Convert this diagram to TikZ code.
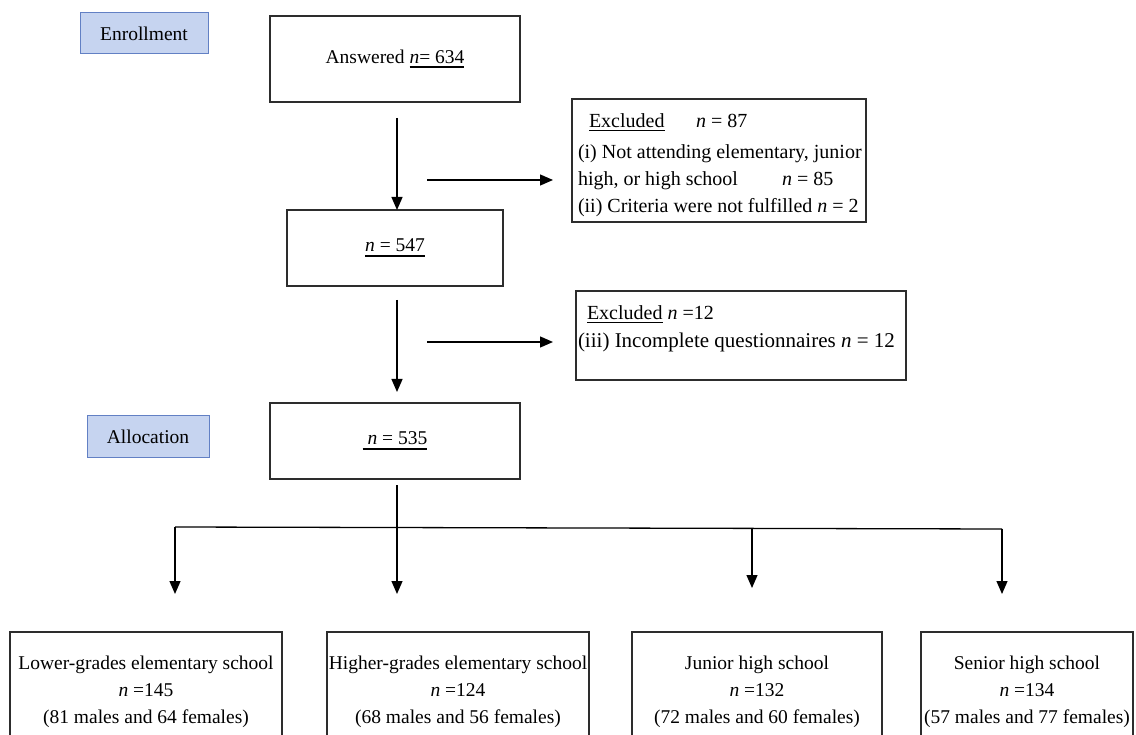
\documentclass[tikz,border=0pt]{standalone}
\usepackage{fontspec}
\setmainfont{Liberation Serif}
\usetikzlibrary{arrows.meta}
\definecolor{phasefill}{RGB}{198,212,240}
\definecolor{phasedraw}{RGB}{98,128,196}
\definecolor{boxdraw}{RGB}{45,45,45}
\newcommand{\thul}[1]{\setbox0\hbox{#1}\rlap{\rule[-5pt]{\wd0}{2.4pt}}\box0\relax}
\newcommand{\tnul}[1]{\setbox0\hbox{#1}\rlap{\rule[-3.5pt]{\wd0}{1.3pt}}\box0\relax}
\begin{document}
\begin{tikzpicture}[x=1pt,y=-1pt,
  every node/.style={font=\fontsize{19.5}{27}\selectfont, inner sep=0pt, outer sep=0pt},
  exfont/.style={font=\fontsize{20}{27}\selectfont},
  box/.style={draw=boxdraw, line width=1.3pt, rectangle},
  phase/.style={draw=phasedraw, fill=phasefill, line width=1pt, rectangle},
  arr/.style={line width=1.3pt, -{Triangle[length=13pt,width=11pt]}},
  ln/.style={line width=1.3pt}]
\useasboundingbox (0,0) rectangle (1136,735);

% phase labels
\node[phase, minimum width=128, minimum height=41] (enr) at (144,33.5) {Enrollment};
\node[phase, minimum width=122, minimum height=41] (alc) at (148,436.5) {Allocation};

% main column
\node[box, minimum width=250, minimum height=86] (ans) at (395,59) {Answered \thul{\textit{n}= 634}};
\node[box, minimum width=216, minimum height=76] (n547) at (395,248) {\thul{\textit{n} = 547}};
\node[box, minimum width=250, minimum height=76] (n535) at (395,441) {\thul{\ \textit{n} = 535}};

% exclusion boxes
\node[box, minimum width=294, minimum height=123] (ex1) at (719,160.5) {};
\node[exfont, anchor=base west] (ex1a) at (589,128) {\tnul{Excluded}};
\node[exfont, anchor=base west] (ex1b) at (696,128) {\textit{n} = 87};
\node[exfont, anchor=base west] (ex1c) at (578,159) {(i) Not attending elementary, junior};
\node[exfont, anchor=base west] (ex1d) at (578,186) {high, or high school};
\node[exfont, anchor=base west] (ex1e) at (782,186) {\textit{n} = 85};
\node[exfont, anchor=base west] (ex1f) at (578,213) {(ii) Criteria were not fulfilled \textit{n} = 2};

\node[box, minimum width=330, minimum height=89] (ex2) at (741,335.5) {};
\node[exfont, anchor=base west] (ex2a) at (587,320) {\tnul{Excluded} \textit{n} =12};
\node[anchor=base west, font=\fontsize{21}{27}\selectfont] (ex2b) at (578,348) {(iii) Incomplete questionnaires \textit{n} = 12};

% groups
\node[box, minimum width=272, minimum height=120, align=center] (g1) at (146,692) {Lower-grades elementary school\\\textit{n} =145\\(81 males and 64 females)};
\node[box, minimum width=262, minimum height=120, align=center] (g2) at (458,692) {Higher-grades elementary school\\\textit{n} =124\\(68 males and 56 females)};
\node[box, minimum width=250, minimum height=120, align=center] (g3) at (757,692) {Junior high school\\\textit{n} =132\\(72 males and 60 females)};
\node[box, minimum width=212, minimum height=120, align=center] (g4) at (1027,692) {Senior high school\\\textit{n} =134\\(57 males and 77 females)};

% connectors
\coordinate (a1s) at (397,118);
\draw[arr] (a1s) -- (a1s |- n547.north);
\coordinate (h1s) at (427,180);
\draw[arr, shorten >=19pt] (h1s) -- (h1s -| ex1.west);
\coordinate (a2s) at (397,300);
\coordinate (a2e) at (397,392);
\draw[arr] (a2s) -- (a2e);
\coordinate (h2s) at (427,342);
\draw[arr, shorten >=23pt] (h2s) -- (h2s -| ex2.west);

\coordinate (a3s) at (397,485);
\coordinate (bl) at (175,527);
\coordinate (bm) at (752,528);
\coordinate (br) at (1002,529);
\draw[ln] (bl) -- (br);
\coordinate (t1) at (175,594);
\coordinate (t2) at (397,594);
\coordinate (t3) at (752,588);
\coordinate (t4) at (1002,594);
\draw[arr] (a3s) -- (t2);
\draw[arr] (bl) -- (t1);
\draw[arr] (bm) -- (t3);
\draw[arr] (br) -- (t4);
\end{tikzpicture}
\end{document}
